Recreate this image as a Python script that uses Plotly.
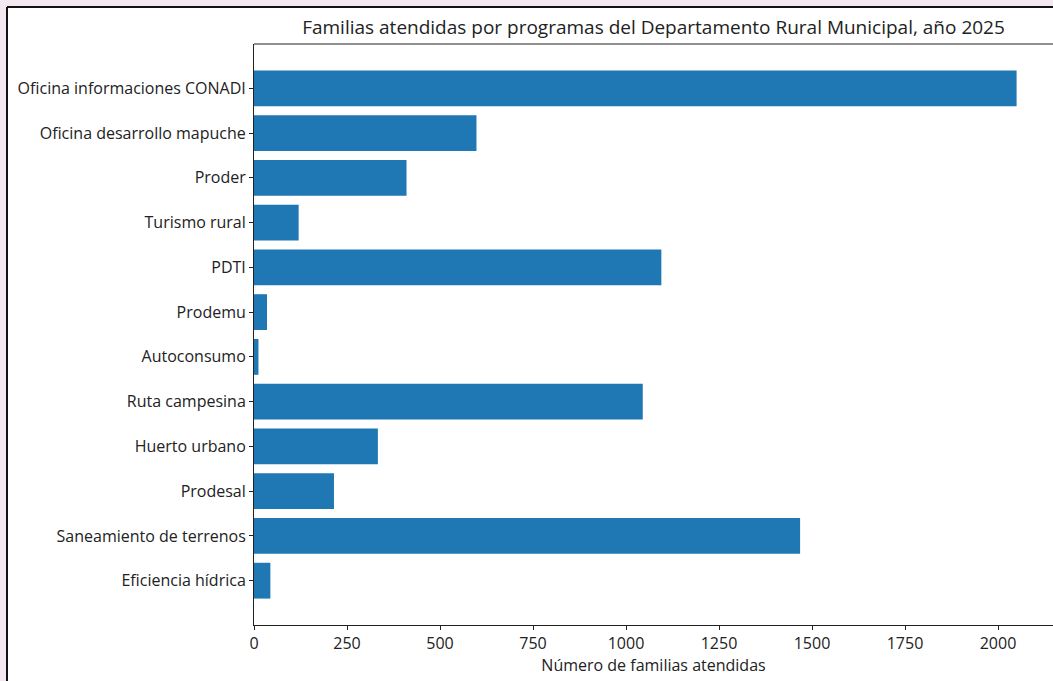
import plotly.graph_objects as go

categories = [
    "Eficiencia hídrica",
    "Saneamiento de terrenos",
    "Prodesal",
    "Huerto urbano",
    "Ruta campesina",
    "Autoconsumo",
    "Prodemu",
    "PDTI",
    "Turismo rural",
    "Proder",
    "Oficina desarrollo mapuche",
    "Oficina informaciones CONADI",
]
values = [44, 1468, 215, 333, 1045, 12, 35, 1095, 120, 410, 598, 2050]

x_ticks = [0, 250, 500, 750, 1000, 1250, 1500, 1750, 2000]

W, H = 1053, 681
L, R, T, B = 254, 0, 44, 56
pw = W - L - R
ph = H - T - B


def px_x(p):
    return (p - L) / pw


def px_y(p):
    return (H - B - p) / ph


FONT = "Open Sans"
BORDER = dict(color="#111111", width=2)

fig = go.Figure(
    go.Bar(
        x=values,
        y=categories,
        orientation="h",
        marker=dict(color="#1f77b4", line=dict(width=0)),
        width=0.8,
    )
)

fig.update_layout(
    width=W,
    height=H,
    margin=dict(l=L, r=R, t=T, b=B),
    paper_bgcolor="#f3e8f0",
    plot_bgcolor="white",
    font=dict(family=FONT, size=16, color="#222222"),
    showlegend=False,
    title=dict(
        text="Familias atendidas por programas del Departamento Rural Municipal, año 2025",
        x=0.5,
        xref="paper",
        xanchor="center",
        y=1 - 27 / H,
        yref="container",
        yanchor="middle",
        font=dict(family=FONT, size=19, color="#222222"),
    ),
    shapes=[
        dict(
            type="rect",
            xref="paper",
            yref="paper",
            x0=px_x(7),
            x1=px_x(W + 20),
            y0=px_y(H + 20),
            y1=px_y(7),
            fillcolor="white",
            line=dict(width=0),
            layer="below",
        ),
        dict(
            type="line",
            xref="paper",
            yref="paper",
            x0=px_x(7),
            x1=px_x(W + 20),
            y0=px_y(7),
            y1=px_y(7),
            line=BORDER,
            layer="below",
        ),
        dict(
            type="line",
            xref="paper",
            yref="paper",
            x0=px_x(7),
            x1=px_x(7),
            y0=px_y(H + 20),
            y1=px_y(7),
            line=BORDER,
            layer="below",
        ),
        dict(
            type="line",
            xref="paper",
            yref="paper",
            x0=0,
            x1=1.01,
            y0=1,
            y1=1,
            line=dict(color="#222222", width=1),
            layer="above",
        ),
    ],
)

fig.update_xaxes(
    range=[0, pw / 0.372],
    tickvals=x_ticks,
    ticktext=[str(v) for v in x_ticks],
    ticks="outside",
    ticklen=4,
    tickwidth=1,
    tickcolor="#222222",
    showline=True,
    linecolor="#222222",
    linewidth=1,
    mirror=False,
    showgrid=False,
    zeroline=False,
    tickfont=dict(size=16),
    title=dict(text="Número de familias atendidas", standoff=2, font=dict(size=16)),
)

fig.update_yaxes(
    type="category",
    categoryorder="array",
    categoryarray=categories,
    range=[-0.99, 11.99],
    ticks="outside",
    ticklen=4,
    tickwidth=1,
    tickcolor="#222222",
    showline=True,
    linecolor="#222222",
    linewidth=1,
    showgrid=False,
    zeroline=False,
    tickfont=dict(size=16),
)

fig.write_html(
    "out.html",
    config={"displayModeBar": False},
    post_script="document.body.style.margin='0';document.body.style.overflow='hidden';",
)
